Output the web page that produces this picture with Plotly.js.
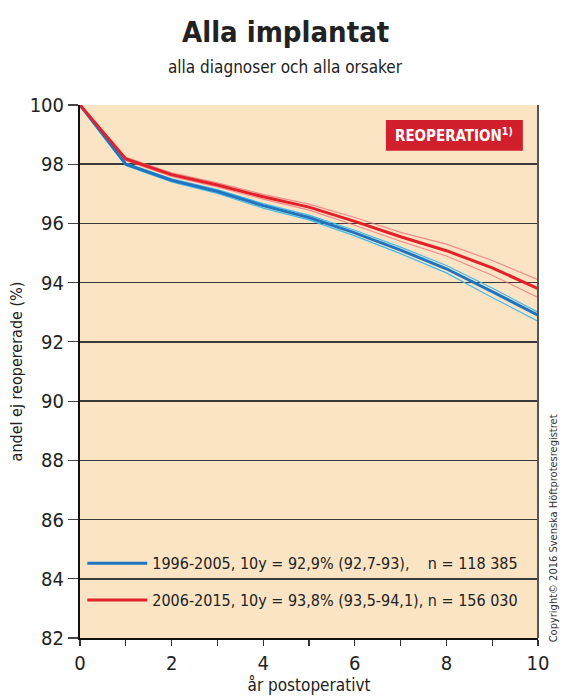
<!DOCTYPE html>
<html>
<head>
<meta charset="utf-8">
<script src="https://cdn.plot.ly/plotly-3.0.1.min.js"></script>
<style>
  html, body { margin: 0; padding: 0; background: #fff; }
  #chart { width: 563px; height: 700px; }
  #chart text { font-stretch: condensed !important; }
</style>
</head>
<body>
<div id="chart"></div>
<script>
// years after operation
const years = [0, 1, 2, 3, 4, 5, 6, 7, 8, 9, 10];

// 1996-2005
const blue   = [100, 98.00, 97.46, 97.08, 96.60, 96.20, 95.68, 95.10, 94.47, 93.70, 92.90];
const blueHi = [100, 98.04, 97.51, 97.14, 96.67, 96.28, 95.77, 95.20, 94.58, 93.82, 93.00];
const blueLo = [100, 97.96, 97.40, 97.01, 96.52, 96.12, 95.58, 94.98, 94.33, 93.50, 92.70];

// 2006-2015
const red   = [100, 98.18, 97.65, 97.30, 96.90, 96.55, 96.07, 95.55, 95.08, 94.50, 93.80];
const redHi = [100, 98.23, 97.71, 97.37, 96.98, 96.65, 96.20, 95.70, 95.30, 94.75, 94.10];
const redLo = [100, 98.13, 97.59, 97.23, 96.82, 96.45, 95.94, 95.40, 94.90, 94.25, 93.50];

const blueName = "1996-2005, 10y = 92,9% (92,7-93),\u00a0\u00a0\u00a0 n = 118 385";
const redName = "2006-2015, 10y = 93,8% (93,5-94,1), n = 156 030";

const FONT = "DejaVu Sans Condensed, DejaVu Sans, sans-serif";

const BLUE = "#1f76c0", BLUE_CI = "#45b8e8";
const RED = "#e4202a", RED_CI = "rgba(236,110,118,0.75)";

function band(y, color) {
  return {
    x: years, y: y, type: "scatter", mode: "lines",
    line: { color: color, width: 1.2 },
    showlegend: false, hoverinfo: "skip",
  };
}

const traces = [
  band(blueHi, BLUE_CI),
  band(blueLo, BLUE_CI),
  band(redHi, RED_CI),
  band(redLo, RED_CI),
  {
    x: years, y: blue, type: "scatter", mode: "lines", name: blueName,
    legendgroup: "a", line: { color: BLUE, width: 3 },
  },
  {
    x: years, y: red, type: "scatter", mode: "lines", name: redName,
    legendgroup: "b", line: { color: RED, width: 3 },
  },
];

const layout = {
  width: 563,
  height: 700,
  paper_bgcolor: "#ffffff",
  plot_bgcolor: "#fbe4c4",
  margin: { l: 80, r: 25, t: 105, b: 62, autoexpand: false },
  font: { family: FONT, color: "#222", size: 18 },
  xaxis: {
    range: [0, 10],
    dtick: 2,
    ticks: "outside", ticklen: 6, tickcolor: "#333", tickwidth: 1.2,
    minor: { dtick: 1, ticks: "outside", ticklen: 6, tickcolor: "#333" },
    showgrid: false,
    showline: true, linecolor: "#111", linewidth: 2,
    zeroline: false,
    tickfont: { size: 20, color: "#222" },
    title: { text: "år postoperativt", font: { size: 17, color: "#222" }, standoff: 4 },
  },
  yaxis: {
    range: [82, 100],
    dtick: 2,
    ticks: "outside", ticklen: 10, tickcolor: "#444", tickwidth: 1.2,
    showgrid: true, gridcolor: "#3a3a3a", gridwidth: 1.5,
    showline: true, linecolor: "#111", linewidth: 2,
    zeroline: false,
    tickfont: { size: 20, color: "#222" },
    title: { text: "andel ej reopererade (%)", font: { size: 16, color: "#222" }, standoff: 3 },
  },
  legend: {
    x: 0.005, y: 0.172, xanchor: "left", yanchor: "top",
    bgcolor: "rgba(0,0,0,0)",
    font: { size: 16, color: "#222" },
    traceorder: "grouped", tracegroupgap: 13,
    itemwidth: 60,
  },
  shapes: [
    { type: "line", xref: "paper", yref: "paper", x0: 1, x1: 1, y0: 0, y1: 1,
      line: { color: "#555", width: 2 } },
    { type: "rect", xref: "paper", yref: "paper", x0: 0.668, x1: 0.967, y0: 0.914, y1: 0.972,
      fillcolor: "#d11f2e", line: { width: 0 } },
  ],
  annotations: [
    { text: "<b>Alla implantat</b>", xref: "paper", yref: "paper",
      x: 0.4476, y: 1.137, xanchor: "center", yanchor: "middle", showarrow: false,
      font: { size: 29, color: "#222" } },
    { text: "alla diagnoser och alla orsaker", xref: "paper", yref: "paper",
      x: 0.4476, y: 1.071, xanchor: "center", yanchor: "middle", showarrow: false,
      font: { size: 17, color: "#222" } },
    { text: "<b>REOPERATION<sup>1)</sup></b>", xref: "paper", yref: "paper",
      x: 0.8175, y: 0.943, xanchor: "center", yanchor: "middle", showarrow: false,
      font: { size: 15, color: "#ffffff" } },
    { text: "Copyright© 2016 Svenska Höftprotesregistret", xref: "paper", yref: "paper",
      x: 1.033, y: 0.206, xanchor: "center", yanchor: "middle", showarrow: false,
      textangle: -90, font: { size: 11, color: "#333" } },
  ],
};

Plotly.newPlot("chart", traces, layout, { staticPlot: true, displayModeBar: false });
</script>
</body>
</html>
